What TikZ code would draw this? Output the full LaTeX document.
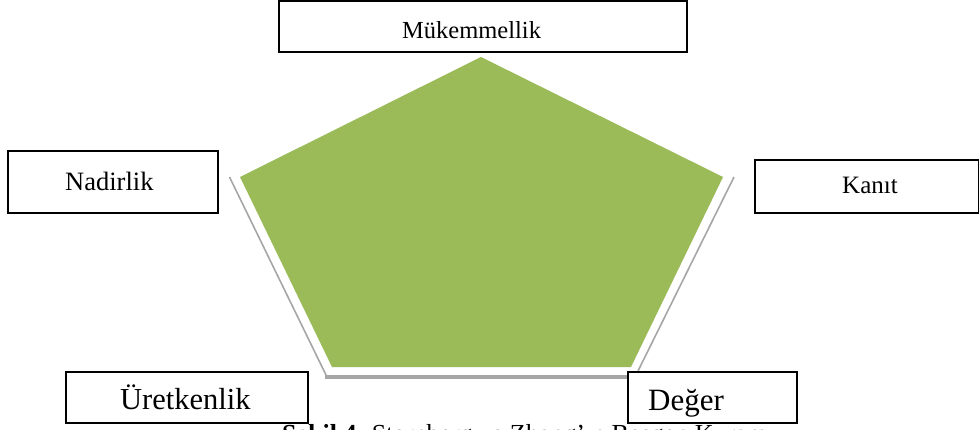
\documentclass[tikz,border=0pt]{standalone}
\usepackage{fontspec}
\setmainfont{Liberation Serif}
\definecolor{penta}{HTML}{9BBB59}
\definecolor{shade}{HTML}{A6A6A6}
\tikzset{
  box/.style={draw=black, line width=1.1pt, fill=white, inner sep=0pt},
  lbl/.style={inner sep=0pt, anchor=base west},
  shadowline/.style={draw=shade, line width=1.6pt},
}
\begin{document}
\begin{tikzpicture}[x=1pt, y=-1pt]
\useasboundingbox (0,0) rectangle (979,430);
\clip (0,0) rectangle (979,430);
% pentagon
\coordinate (pt) at (481,57);
\coordinate (pr) at (723,177);
\coordinate (pbr) at (631,367);
\coordinate (pbl) at (332,367);
\coordinate (pl) at (240,177);
\fill[penta] (pt) -- (pr) -- (pbr) -- (pbl) -- (pl) -- cycle;
% shadow edges
\coordinate (sl1) at (229.5,177);
\coordinate (sl2) at (326,375);
\coordinate (sr1) at (734,177);
\coordinate (sr2) at (638,371);
\coordinate (sb1) at (325,377);
\coordinate (sb2) at (637,377);
\draw[shadowline] (sl1) -- (sl2);
\draw[shadowline] (sr1) -- (sr2);
\draw[draw=shade, line width=3.2pt] (sb1) -- (sb2);
% boxes
\node[box, minimum width=408pt, minimum height=51pt] (bm) at (483,26.5) {};
\node[lbl, font=\fontsize{24.5}{28}\selectfont] (tm) at (402,39) {Mükemmellik};
\node[box, minimum width=210pt, minimum height=62pt] (bn) at (113,182) {};
\node[lbl, font=\fontsize{26.5}{30}\selectfont] (tn) at (65,191) {Nadirlik};
\node[box, minimum width=224pt, minimum height=53pt] (bk) at (867,186.5) {};
\node[lbl, font=\fontsize{25}{29}\selectfont] (tk) at (842,194) {Kanıt};
\node[box, minimum width=242pt, minimum height=51pt] (bu) at (187,397.5) {};
\node[lbl, font=\fontsize{30.5}{34}\selectfont] (tu) at (120,409) {Üretkenlik};
\node[box, minimum width=169pt, minimum height=51pt] (bd) at (712.5,397.5) {};
\node[lbl, font=\fontsize{31}{35}\selectfont] (td) at (648,410) {Değer};
% caption (cut off by the frame, as in the reference)
\node[lbl, font=\fontsize{26}{30}\selectfont] (cap) at (282,442) {\textbf{Şekil 4.} Sternberg ve Zhang’ın Beşgen Kuramı};
\end{tikzpicture}
\end{document}
